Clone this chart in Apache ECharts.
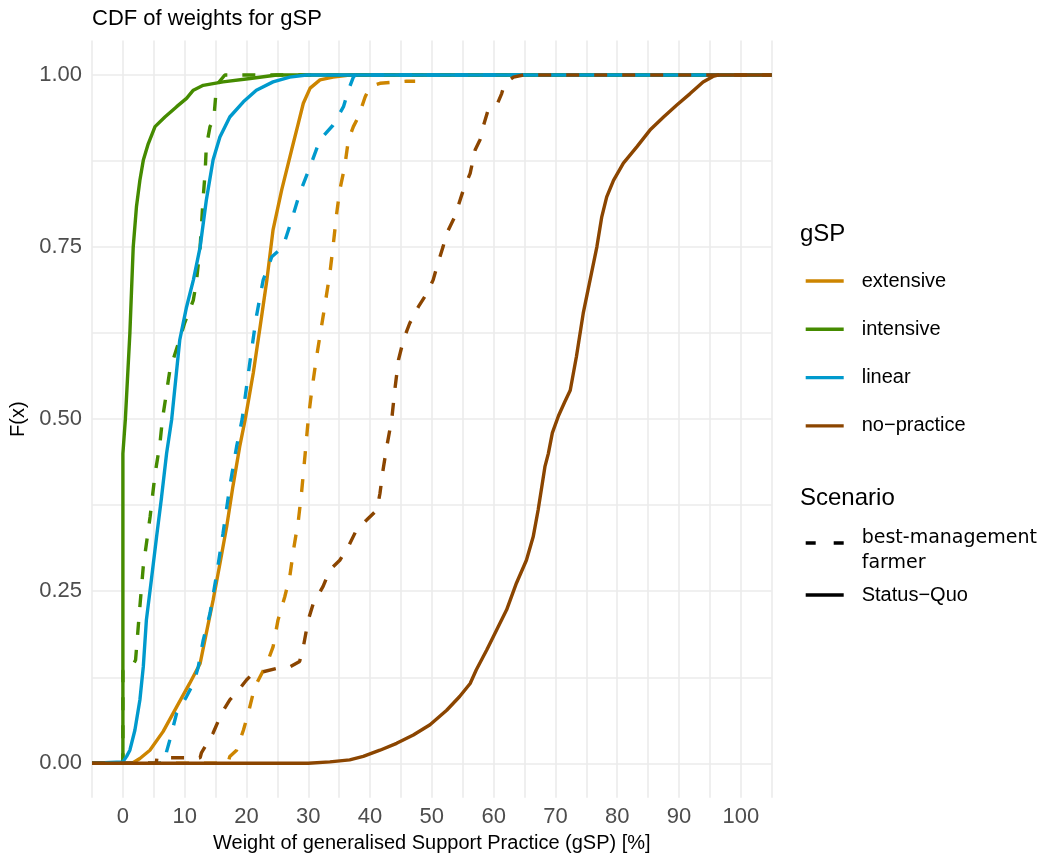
<!DOCTYPE html>
<html>
<head>
<meta charset="utf-8">
<title>CDF of weights for gSP</title>
<script src="https://cdn.jsdelivr.net/npm/echarts@6/dist/echarts.min.js"></script>
<style>
  html, body { margin: 0; padding: 0; background: #ffffff; }
  #chart { width: 1055px; height: 855px; }
</style>
</head>
<body>
<div id="chart"></div>
<script>
// ECDF of gSP weights
// x = weight [%], F = cumulative share

const gspNames = ['extensive', 'intensive', 'linear', 'no-practice'];
const gspLabels = ['extensive', 'intensive', 'linear', 'no\u2212practice'];
const gspColors = ['#CD8500', '#458B00', '#009ACD', '#8B4500'];
const scenarioNames = ['best-management farmer', 'Status-Quo'];

const xTicks = [0, 10, 20, 30, 40, 50, 60, 70, 80, 90, 100];
const yTicks = [0, 0.25, 0.5, 0.75, 1];
const yGrid = [0, 0.125, 0.25, 0.375, 0.5, 0.625, 0.75, 0.875, 1];

// extensive
const extBmfX = [-5, 17.0, 17.3, 18.4, 19.5, 20.3, 21.3, 23.3, 24.3, 25.1, 26.2, 27.0, 27.7, 28.4, 28.9, 29.5, 30.0, 30.5, 31.35, 32.4, 33.5, 34.0, 34.6, 35.1, 35.9, 36.5, 37.3, 38.1, 39.2, 40.0, 41.6, 45.9, 47.3];
const extBmfF = [0, 0, 0.01, 0.019, 0.048, 0.073, 0.11, 0.145, 0.169, 0.208, 0.242, 0.271, 0.315, 0.353, 0.392, 0.45, 0.5, 0.537, 0.591, 0.649, 0.712, 0.75, 0.799, 0.833, 0.867, 0.906, 0.925, 0.939, 0.968, 0.983, 0.988, 0.991, 0.991];
const extSqX = [-5, 1.5, 2.75, 4.37, 6.5, 8.7, 10.8, 12.5, 13.5, 14.6, 15.7, 16.8, 17.8, 18.9, 19.8, 21.1, 22.2, 23.3, 24.3, 25.7, 27.3, 28.4, 29.2, 30.3, 31.9, 34.0, 36.7, 105];
const extSqF = [0, 0, 0.007, 0.019, 0.046, 0.082, 0.116, 0.145, 0.189, 0.237, 0.29, 0.344, 0.402, 0.46, 0.5, 0.567, 0.634, 0.702, 0.775, 0.833, 0.891, 0.93, 0.959, 0.981, 0.993, 0.997, 1, 1];

// intensive
const intBmfX = [-5, 0, 0, 1.2, 2.05, 2.75, 3.3, 4.4, 5.2, 6.0, 6.4, 7.6, 8.96, 10.0, 11.4, 11.9, 12.5, 13.0, 13.3, 13.5, 14.1, 14.7, 15.05, 15.4, 16.5, 105];
const intBmfF = [0, 0, 0.135, 0.135, 0.15, 0.228, 0.286, 0.358, 0.42, 0.465, 0.5, 0.571, 0.61, 0.64, 0.673, 0.7, 0.75, 0.823, 0.857, 0.896, 0.925, 0.935, 0.973, 0.988, 1, 1];
const intSqX = [-5, 0, 0, 0.4, 1.13, 1.67, 2.2, 2.75, 3.3, 4.1, 5.2, 6.8, 8.7, 10.3, 11.4, 13.0, 16.2, 20.6, 24.9, 105];
const intSqF = [0, 0, 0.45, 0.5, 0.625, 0.75, 0.809, 0.847, 0.876, 0.9, 0.925, 0.939, 0.954, 0.966, 0.978, 0.985, 0.99, 0.995, 1, 1];

// linear
const linBmfX = [-5, 6.8, 7.07, 7.6, 8.7, 10.3, 11.4, 12.2, 13.0, 14.1, 15.2, 16.2, 17.3, 18.4, 19.3, 20.6, 21.6, 22.7, 24.1, 25.9, 27.3, 28.6, 30.3, 31.9, 34.0, 35.7, 36.5, 37.3, 37.6, 105];
const linBmfF = [0, 0, 0.017, 0.034, 0.073, 0.097, 0.116, 0.14, 0.179, 0.218, 0.276, 0.334, 0.402, 0.46, 0.5, 0.586, 0.649, 0.702, 0.736, 0.75, 0.789, 0.828, 0.867, 0.906, 0.927, 0.954, 0.978, 0.997, 1, 1];
const linSqX = [-5, 0, 0.6, 1.13, 1.94, 2.75, 3.3, 3.8, 4.6, 5.45, 6.26, 7.07, 7.9, 9.2, 10.3, 11.4, 12.5, 13.5, 14.6, 15.7, 17.3, 19.5, 21.6, 24.3, 27.0, 29.7, 105];
const linSqF = [0, 0.002, 0.01, 0.019, 0.048, 0.092, 0.14, 0.208, 0.266, 0.329, 0.387, 0.45, 0.5, 0.615, 0.663, 0.702, 0.75, 0.818, 0.877, 0.91, 0.939, 0.961, 0.978, 0.99, 0.997, 1, 1];

// no-practice
const npBmfX = [-5, 5.4, 5.5, 12.5, 12.7, 13.3, 14.6, 16.0, 17.3, 18.7, 20.0, 21.1, 22.7, 24.9, 27.0, 28.6, 29.2, 30.0, 30.8, 32.4, 33.5, 35.1, 36.5, 37.8, 39.4, 41.1, 41.6, 42.1, 42.7, 43.5, 44.0, 44.6, 45.4, 46.4, 47.8, 49.2, 50.2, 50.8, 51.8, 52.4, 53.7, 55.1, 56.2, 57.0, 57.8, 58.3, 59.1, 60.5, 61.3, 61.8, 63.2, 64.8, 105];
const npBmfF = [0, 0, 0.008, 0.008, 0.015, 0.024, 0.044, 0.073, 0.092, 0.106, 0.121, 0.131, 0.133, 0.138, 0.14, 0.148, 0.169, 0.208, 0.232, 0.257, 0.281, 0.295, 0.315, 0.339, 0.353, 0.368, 0.392, 0.426, 0.46, 0.499, 0.542, 0.586, 0.615, 0.639, 0.663, 0.683, 0.702, 0.721, 0.75, 0.77, 0.794, 0.833, 0.857, 0.891, 0.906, 0.925, 0.949, 0.956, 0.973, 0.988, 0.997, 1, 1];
const npSqX = [-5, 30, 33.5, 36.7, 38.9, 41.6, 44.3, 47.0, 49.7, 52.4, 54.5, 56.2, 57.2, 58.9, 60.5, 62.1, 63.7, 65.3, 66.4, 67.2, 67.8, 68.3, 68.85, 69.5, 70.5, 71.5, 72.4, 73.4, 74.5, 75.6, 76.7, 77.5, 78.3, 79.4, 81.0, 83.2, 85.3, 87.5, 89.6, 91.8, 93.9, 95.5, 96.3, 105];
const npSqF = [0, 0, 0.002, 0.005, 0.01, 0.019, 0.029, 0.041, 0.056, 0.077, 0.097, 0.116, 0.136, 0.165, 0.194, 0.223, 0.262, 0.295, 0.329, 0.368, 0.402, 0.431, 0.45, 0.48, 0.505, 0.525, 0.542, 0.591, 0.654, 0.702, 0.75, 0.794, 0.823, 0.847, 0.872, 0.896, 0.92, 0.939, 0.956, 0.973, 0.99, 0.998, 1, 1];

const fontFamily = '"Liberation Sans", Arial, sans-serif';
const dashPattern = [13, 15];
const lineWidth = 3.4;

function zip(xs, fs) {
    return xs.map(function (x, i) { return [x, fs[i]]; });
}

// drawing order as in ggplot: per gSP, best-management first, Status-Quo on top
const curves = [
    [extBmfX, extBmfF, extSqX, extSqF],
    [intBmfX, intBmfF, intSqX, intSqF],
    [linBmfX, linBmfF, linSqX, linSqF],
    [npBmfX, npBmfF, npSqX, npSqF]
];

const series = [];
curves.forEach(function (c, i) {
    series.push({
        name: gspNames[i],
        type: 'line',
        symbol: 'none',
        smooth: false,
        lineStyle: { color: gspColors[i], width: lineWidth, type: dashPattern, cap: 'butt' },
        itemStyle: { color: gspColors[i] },
        data: zip(c[0], c[1])
    });
    series.push({
        name: gspNames[i],
        type: 'line',
        symbol: 'none',
        smooth: false,
        lineStyle: { color: gspColors[i], width: lineWidth, type: 'solid' },
        itemStyle: { color: gspColors[i] },
        data: zip(c[2], c[3])
    });
});

// empty series only so the Scenario legend has keys
series.push({
    name: scenarioNames[0], type: 'line', symbol: 'none', data: [],
    lineStyle: { color: '#000', width: lineWidth, type: [10, 18], cap: 'butt' }, itemStyle: { color: '#000' }
});
series.push({
    name: scenarioNames[1], type: 'line', symbol: 'none', data: [],
    lineStyle: { color: '#000', width: lineWidth, type: 'solid' }, itemStyle: { color: '#000' }
});

// shared look of the legend blocks
function legendBlock(extra) {
    const base = {
        orient: 'vertical',
        left: 804, padding: 0,
        itemWidth: 38, itemHeight: 24,
        selectedMode: false,
        itemStyle: { opacity: 0 },
        lineStyle: { width: lineWidth },
        textStyle: { fontSize: 20, color: '#000', lineHeight: 24, padding: [0, 0, 0, 13], fontFamily: fontFamily }
    };
    return Object.assign(base, extra);
}

const chart = echarts.init(document.getElementById('chart'), null, { renderer: 'canvas' });

const option = {
    animation: false,
    backgroundColor: '#ffffff',
    textStyle: { fontFamily: fontFamily },
    title: [
        {
            text: 'CDF of weights for gSP',
            left: 92, top: 8, padding: 0,
            textStyle: { fontSize: 22, fontWeight: 'normal', color: '#000', fontFamily: fontFamily }
        },
        {
            text: 'gSP',
            left: 800, top: 222, padding: 0,
            textStyle: { fontSize: 24, fontWeight: 'normal', color: '#000', fontFamily: fontFamily }
        },
        {
            text: 'Scenario',
            left: 800, top: 486, padding: 0,
            textStyle: { fontSize: 24, fontWeight: 'normal', color: '#000', fontFamily: fontFamily }
        }
    ],
    legend: [
        legendBlock({
            top: 269, itemGap: 24.3,
            data: gspNames.map(function (n) { return { name: n, lineStyle: { type: 'solid', width: lineWidth } }; }),
            formatter: function (n) { return gspLabels[gspNames.indexOf(n)]; }
        }),
        legendBlock({
            top: 510.5,
            data: [scenarioNames[0]],
            // small spacer line so the key sits next to the first text line
            formatter: function () { return '{s| }\n{d|best-management}\n{d|farmer}'; },
            textStyle: {
                fontSize: 19, color: '#000', lineHeight: 25, padding: [0, 0, 0, 13],
                fontFamily: '"DejaVu Sans", sans-serif',
                rich: {
                    s: { fontSize: 8, lineHeight: 15 },
                    d: { fontSize: 19, lineHeight: 25, color: '#000', fontFamily: '"DejaVu Sans", sans-serif' }
                }
            }
        }),
        legendBlock({
            top: 583,
            data: [scenarioNames[1]],
            formatter: function () { return 'Status\u2212Quo'; }
        })
    ],
    grid: { left: 92, right: 283.3, top: 40.6, bottom: 57.3, outerBoundsMode: 'none' },
    xAxis: {
        type: 'value',
        min: -5, max: 105, interval: 5,
        name: 'Weight of generalised Support Practice (gSP) [%]',
        nameLocation: 'middle', nameGap: 36,
        nameTextStyle: { fontSize: 20, color: '#000', fontFamily: fontFamily },
        axisLine: { show: false },
        axisTick: { show: false },
        axisLabel: {
            fontSize: 22, color: '#4D4D4D', margin: 8, fontFamily: fontFamily,
            formatter: function (v) { return xTicks.indexOf(v) >= 0 ? String(v) : ''; }
        },
        splitLine: { show: true, lineStyle: { color: '#EBEBEB', width: 1.6 } }
    },
    yAxis: {
        type: 'value',
        min: -0.05, max: 1.05,
        name: 'F(x)',
        nameLocation: 'middle', nameGap: 55,
        nameTextStyle: { fontSize: 20, color: '#000', fontFamily: fontFamily },
        axisLine: { show: false },
        axisTick: { show: false, customValues: yGrid },
        axisLabel: {
            customValues: yTicks,
            fontSize: 22, color: '#4D4D4D', margin: 10, fontFamily: fontFamily,
            formatter: function (v) { return v.toFixed(2); }
        },
        splitLine: { show: true, lineStyle: { color: '#EBEBEB', width: 1.6 } }
    },
    series: series
};

chart.setOption(option);
</script>
</body>
</html>
